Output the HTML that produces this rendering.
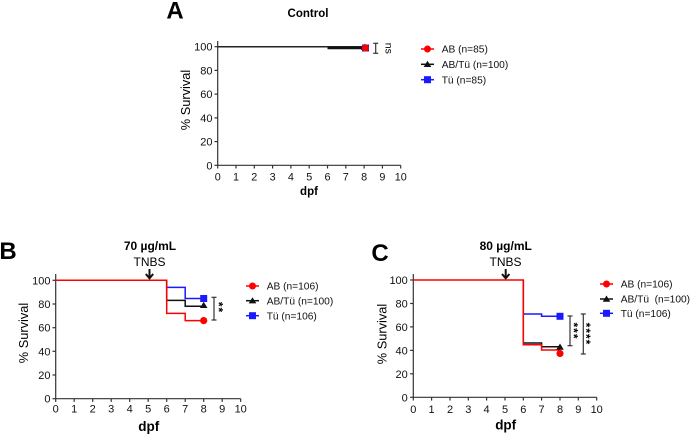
<!DOCTYPE html>
<html><head><meta charset="utf-8"><style>
html,body{margin:0;padding:0;background:#fff;}
svg{display:block;font-family:"Liberation Sans",Arial,sans-serif;}
</style></head><body>
<svg width="691" height="436" viewBox="0 0 691 436" xmlns="http://www.w3.org/2000/svg">
<!-- ============ PANEL A ============ -->
<text x="175" y="18.5" font-size="24" font-weight="bold" text-anchor="middle">A</text>
<text x="308" y="17" font-size="11.5" font-weight="bold" text-anchor="middle">Control</text>
<g stroke="#333" stroke-width="1.2" fill="none">
<line x1="217.7" y1="41" x2="217.7" y2="165.3"/>
<line x1="217.7" y1="165.3" x2="400.7" y2="165.3"/>
<line x1="214.5" y1="46.7" x2="217.7" y2="46.7"/><line x1="214.5" y1="70.4" x2="217.7" y2="70.4"/><line x1="214.5" y1="94.1" x2="217.7" y2="94.1"/><line x1="214.5" y1="117.9" x2="217.7" y2="117.9"/><line x1="214.5" y1="141.6" x2="217.7" y2="141.6"/><line x1="214.5" y1="165.3" x2="217.7" y2="165.3"/>
<line x1="217.7" y1="165.3" x2="217.7" y2="168.5"/><line x1="236" y1="165.3" x2="236" y2="168.5"/><line x1="254.3" y1="165.3" x2="254.3" y2="168.5"/><line x1="272.6" y1="165.3" x2="272.6" y2="168.5"/><line x1="290.9" y1="165.3" x2="290.9" y2="168.5"/><line x1="309.2" y1="165.3" x2="309.2" y2="168.5"/><line x1="327.5" y1="165.3" x2="327.5" y2="168.5"/><line x1="345.8" y1="165.3" x2="345.8" y2="168.5"/><line x1="364.1" y1="165.3" x2="364.1" y2="168.5"/><line x1="382.4" y1="165.3" x2="382.4" y2="168.5"/><line x1="400.7" y1="165.3" x2="400.7" y2="168.5"/>
</g>
<g font-size="11" text-anchor="end" fill="#111">
<text x="212.5" y="50.7">100</text><text x="212.5" y="74.4">80</text><text x="212.5" y="98.1">60</text><text x="212.5" y="121.9">40</text><text x="212.5" y="145.6">20</text><text x="212.5" y="169.3">0</text>
</g>
<g font-size="10.8" text-anchor="middle" fill="#111">
<text x="217.7" y="180.7">0</text><text x="236" y="180.7">1</text><text x="254.3" y="180.7">2</text><text x="272.6" y="180.7">3</text><text x="290.9" y="180.7">4</text><text x="309.2" y="180.7">5</text><text x="327.5" y="180.7">6</text><text x="345.8" y="180.7">7</text><text x="364.1" y="180.7">8</text><text x="382.4" y="180.7">9</text><text x="400.7" y="180.7">10</text>
</g>
<text transform="translate(190,100) rotate(-90)" font-size="12.8" text-anchor="middle">% Survival</text>
<text x="309" y="195" font-size="11.5" font-weight="bold" text-anchor="middle">dpf</text>
<line x1="217.7" y1="46.7" x2="364" y2="46.7" stroke="#222" stroke-width="1.5"/>
<line x1="327.5" y1="48" x2="364" y2="48" stroke="#111" stroke-width="2.6"/>
<polygon points="365,43.5 369,50 361,50" fill="#111"/>
<rect x="362" y="44.5" width="7" height="7" fill="#1a1aff"/>
<circle cx="365.5" cy="48" r="3.6" fill="#ff0000"/>
<g stroke="#333" stroke-width="1.2"><line x1="375.7" y1="43.3" x2="375.7" y2="53.3"/><line x1="373.2" y1="43.3" x2="378.2" y2="43.3"/><line x1="373.2" y1="53.3" x2="378.2" y2="53.3"/></g>
<text transform="translate(385.6,48.3) rotate(90)" font-size="10.5" text-anchor="middle">ns</text>
<!-- legend A -->
<g stroke-width="1.5">
<line x1="421" y1="49" x2="434" y2="49" stroke="#ff0000"/><circle cx="427.5" cy="49" r="3.5" fill="#ff0000"/>
<line x1="421" y1="64.3" x2="434" y2="64.3" stroke="#111"/><polygon points="427.5,60.8 431.3,67 423.7,67" fill="#111"/>
<line x1="421" y1="79.7" x2="434" y2="79.7" stroke="#1a1aff"/><rect x="424" y="76.2" width="7" height="7" fill="#1a1aff"/>
</g>
<g font-size="10.2" fill="#111">
<text x="441.7" y="52.7">AB (n=85)</text><text x="441.7" y="68">AB/Tü (n=100)</text><text x="441.7" y="83.4">Tü (n=85)</text>
</g>

<!-- ============ PANEL B ============ -->
<text x="8" y="259" font-size="24" font-weight="bold" text-anchor="middle">B</text>
<text x="150" y="250" font-size="12" font-weight="bold" text-anchor="middle">70 µg/mL</text>
<text x="149.5" y="266" font-size="12" text-anchor="middle">TNBS</text>
<g stroke="#111" stroke-width="2" fill="none"><line x1="149.5" y1="269" x2="149.5" y2="278"/><polyline points="145.8,274 149.5,278.3 153.2,274"/></g>
<g stroke="#333" stroke-width="1.2" fill="none">
<line x1="55.7" y1="274" x2="55.7" y2="398.7"/>
<line x1="55.7" y1="398.7" x2="240.7" y2="398.7"/>
<line x1="52.5" y1="280.3" x2="55.7" y2="280.3"/><line x1="52.5" y1="304" x2="55.7" y2="304"/><line x1="52.5" y1="327.7" x2="55.7" y2="327.7"/><line x1="52.5" y1="351.3" x2="55.7" y2="351.3"/><line x1="52.5" y1="375" x2="55.7" y2="375"/><line x1="52.5" y1="398.7" x2="55.7" y2="398.7"/>
<line x1="55.7" y1="398.7" x2="55.7" y2="401.9"/><line x1="74.2" y1="398.7" x2="74.2" y2="401.9"/><line x1="92.7" y1="398.7" x2="92.7" y2="401.9"/><line x1="111.2" y1="398.7" x2="111.2" y2="401.9"/><line x1="129.7" y1="398.7" x2="129.7" y2="401.9"/><line x1="148.2" y1="398.7" x2="148.2" y2="401.9"/><line x1="166.7" y1="398.7" x2="166.7" y2="401.9"/><line x1="185.2" y1="398.7" x2="185.2" y2="401.9"/><line x1="203.7" y1="398.7" x2="203.7" y2="401.9"/><line x1="222.2" y1="398.7" x2="222.2" y2="401.9"/><line x1="240.7" y1="398.7" x2="240.7" y2="401.9"/>
</g>
<g font-size="11" text-anchor="end" fill="#111">
<text x="50.5" y="284.3">100</text><text x="50.5" y="308">80</text><text x="50.5" y="331.7">60</text><text x="50.5" y="355.3">40</text><text x="50.5" y="379">20</text><text x="50.5" y="402.7">0</text>
</g>
<g font-size="11" text-anchor="middle" fill="#111">
<text x="55.7" y="412.6">0</text><text x="74.2" y="412.6">1</text><text x="92.7" y="412.6">2</text><text x="111.2" y="412.6">3</text><text x="129.7" y="412.6">4</text><text x="148.2" y="412.6">5</text><text x="166.7" y="412.6">6</text><text x="185.2" y="412.6">7</text><text x="203.7" y="412.6">8</text><text x="222.2" y="412.6">9</text><text x="240.7" y="412.6">10</text>
</g>
<text transform="translate(28,333) rotate(-90)" font-size="12.8" text-anchor="middle">% Survival</text>
<text x="148.8" y="431" font-size="13.5" font-weight="bold" text-anchor="middle">dpf</text>
<g fill="none" stroke-width="1.5">
<polyline points="166.7,280.3 166.7,287.4 185.2,287.4 185.2,298.5 203.7,298.5" stroke="#1a1aff"/>
<polyline points="166.7,280.3 166.7,300.4 185.2,300.4 185.2,306.3 203.7,306.3" stroke="#111"/>
<polyline points="55.7,280.3 166.7,280.3 166.7,313.4 185.2,313.4 185.2,320.6 203.7,320.6" stroke="#ff0000"/>
</g>
<rect x="200.2" y="295" width="7" height="7" fill="#1a1aff"/>
<polygon points="203.7,301.8 207.5,308 199.9,308" fill="#111"/>
<circle cx="203.7" cy="320.6" r="3.6" fill="#ff0000"/>
<g stroke="#333" stroke-width="1.2"><line x1="214" y1="297.3" x2="214" y2="320"/><line x1="211.5" y1="297.3" x2="216.5" y2="297.3"/><line x1="211.5" y1="320" x2="216.5" y2="320"/></g>
<text transform="translate(214.5,307.5) rotate(90)" font-size="12" font-weight="bold" letter-spacing="1" text-anchor="middle">**</text>
<!-- legend B -->
<g stroke-width="1.5">
<line x1="246" y1="286" x2="259" y2="286" stroke="#ff0000"/><circle cx="252.5" cy="286" r="3.5" fill="#ff0000"/>
<line x1="246" y1="300.7" x2="259" y2="300.7" stroke="#111"/><polygon points="252.5,297.2 256.3,303.4 248.7,303.4" fill="#111"/>
<line x1="246" y1="315.7" x2="259" y2="315.7" stroke="#1a1aff"/><rect x="249" y="312.2" width="7" height="7" fill="#1a1aff"/>
</g>
<g font-size="10.2" fill="#111">
<text x="266.7" y="289.7">AB (n=106)</text><text x="266.7" y="304.4">AB/Tü (n=100)</text><text x="266.7" y="319.4">Tü (n=106)</text>
</g>

<!-- ============ PANEL C ============ -->
<text x="380" y="261" font-size="24" font-weight="bold" text-anchor="middle">C</text>
<text x="505.7" y="250" font-size="12" font-weight="bold" text-anchor="middle">80 µg/mL</text>
<text x="505.5" y="266" font-size="12" text-anchor="middle">TNBS</text>
<g stroke="#111" stroke-width="2" fill="none"><line x1="505.7" y1="269" x2="505.7" y2="278"/><polyline points="502,274 505.7,278.3 509.4,274"/></g>
<g stroke="#333" stroke-width="1.2" fill="none">
<line x1="413.3" y1="274" x2="413.3" y2="397.3"/>
<line x1="413.3" y1="397.3" x2="596.7" y2="397.3"/>
<line x1="410.1" y1="280" x2="413.3" y2="280"/><line x1="410.1" y1="303.5" x2="413.3" y2="303.5"/><line x1="410.1" y1="326.9" x2="413.3" y2="326.9"/><line x1="410.1" y1="350.4" x2="413.3" y2="350.4"/><line x1="410.1" y1="373.8" x2="413.3" y2="373.8"/><line x1="410.1" y1="397.3" x2="413.3" y2="397.3"/>
<line x1="413.3" y1="397.3" x2="413.3" y2="400.5"/><line x1="431.6" y1="397.3" x2="431.6" y2="400.5"/><line x1="450" y1="397.3" x2="450" y2="400.5"/><line x1="468.3" y1="397.3" x2="468.3" y2="400.5"/><line x1="486.6" y1="397.3" x2="486.6" y2="400.5"/><line x1="505" y1="397.3" x2="505" y2="400.5"/><line x1="523.3" y1="397.3" x2="523.3" y2="400.5"/><line x1="541.6" y1="397.3" x2="541.6" y2="400.5"/><line x1="560" y1="397.3" x2="560" y2="400.5"/><line x1="578.3" y1="397.3" x2="578.3" y2="400.5"/><line x1="596.7" y1="397.3" x2="596.7" y2="400.5"/>
</g>
<g font-size="11" text-anchor="end" fill="#111">
<text x="407.8" y="284">100</text><text x="407.8" y="307.5">80</text><text x="407.8" y="330.9">60</text><text x="407.8" y="354.4">40</text><text x="407.8" y="377.8">20</text><text x="407.8" y="401.3">0</text>
</g>
<g font-size="11" text-anchor="middle" fill="#111">
<text x="413.3" y="413">0</text><text x="431.6" y="413">1</text><text x="450" y="413">2</text><text x="468.3" y="413">3</text><text x="486.6" y="413">4</text><text x="505" y="413">5</text><text x="523.3" y="413">6</text><text x="541.6" y="413">7</text><text x="560" y="413">8</text><text x="578.3" y="413">9</text><text x="596.7" y="413">10</text>
</g>
<text transform="translate(386.5,334) rotate(-90)" font-size="12.8" text-anchor="middle">% Survival</text>
<text x="505.7" y="429.5" font-size="13.5" font-weight="bold" text-anchor="middle">dpf</text>
<g fill="none" stroke-width="1.5">
<polyline points="523.3,280 523.3,314 541.6,314 541.6,316.3 560,316.3" stroke="#1a1aff"/>
<polyline points="523.3,280 523.3,343 541.6,343 541.6,346.7 560,346.7" stroke="#111"/>
<polyline points="413.3,280 523.3,280 523.3,344.8 541.6,344.8 541.6,350 560,350" stroke="#ff0000"/>
</g>
<rect x="556.5" y="312.8" width="7" height="7" fill="#1a1aff"/>
<polygon points="560,343.5 563.8,349.7 556.2,349.7" fill="#111"/>
<circle cx="560" cy="353.5" r="3.6" fill="#ff0000"/>
<g stroke="#333" stroke-width="1.2">
<line x1="570" y1="316" x2="570" y2="345.7"/><line x1="567.5" y1="316" x2="572.5" y2="316"/><line x1="567.5" y1="345.7" x2="572.5" y2="345.7"/>
<line x1="583.3" y1="314" x2="583.3" y2="354"/><line x1="580.8" y1="314" x2="585.8" y2="314"/><line x1="580.8" y1="354" x2="585.8" y2="354"/>
</g>
<text transform="translate(569.5,331) rotate(90)" font-size="12" font-weight="bold" letter-spacing="1" text-anchor="middle">***</text>
<text transform="translate(582.2,334) rotate(90)" font-size="12" font-weight="bold" letter-spacing="1" text-anchor="middle">****</text>
<!-- legend C -->
<g stroke-width="1.5">
<line x1="600" y1="284" x2="613" y2="284" stroke="#ff0000"/><circle cx="606.5" cy="284" r="3.5" fill="#ff0000"/>
<line x1="600" y1="299" x2="613" y2="299" stroke="#111"/><polygon points="606.5,295.5 610.3,301.7 602.7,301.7" fill="#111"/>
<line x1="600" y1="313.3" x2="613" y2="313.3" stroke="#1a1aff"/><rect x="603" y="309.8" width="7" height="7" fill="#1a1aff"/>
</g>
<g font-size="10.2" fill="#111">
<text x="620.7" y="287.7">AB (n=106)</text><text x="620.7" y="302.7">AB/Tü&#160; (n=100)</text><text x="620.7" y="317">Tü (n=106)</text>
</g>
</svg>
</body></html>
